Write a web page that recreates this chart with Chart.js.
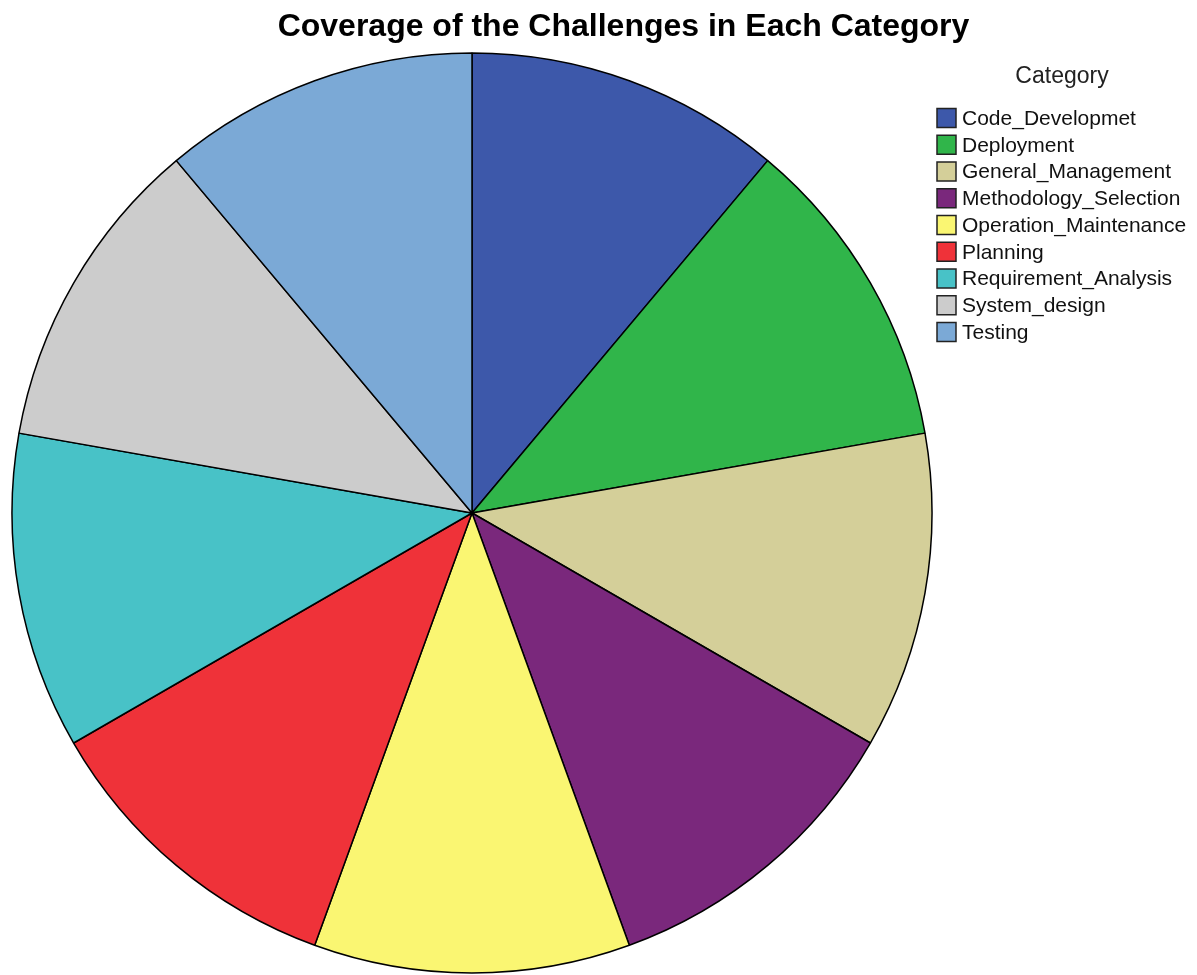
<!DOCTYPE html>
<html>
<head>
<meta charset="utf-8">
<script src="https://cdn.jsdelivr.net/npm/chart.js@4.4.1/dist/chart.umd.min.js"></script>
<style>
html,body{margin:0;padding:0;background:#fff;}
#wrap{position:relative;width:1197px;height:975px;}
</style>
</head>
<body>
<div id="wrap"><canvas id="c" width="1197" height="975"></canvas></div>
<script>
const chartTitle = "Coverage of the Challenges in Each Category";
const legendTitle = "Category";
const categories = ["Code_Developmet","Deployment","General_Management","Methodology_Selection","Operation_Maintenance","Planning","Requirement_Analysis","System_design","Testing"];
const counts = [1,1,1,1,1,1,1,1,1];
const colors = ["#3D58AA","#30B54A","#D4CF99","#7A287C","#FAF672","#EF3239","#48C2C7","#CCCCCC","#7BA9D6"];

const overlay = {
  id:'overlay',
  afterDraw(chart){
    const ctx = chart.ctx;
    ctx.save();
    ctx.fillStyle = '#000';
    ctx.font = 'bold 32px "Liberation Sans", Arial, sans-serif';
    ctx.textAlign = 'center';
    ctx.textBaseline = 'alphabetic';
    ctx.fillText(chartTitle, 623.5, 36);
    ctx.font = '23px "Liberation Sans", Arial, sans-serif';
    ctx.fillStyle = '#222';
    ctx.fillText(legendTitle, 1062, 83);
    ctx.textAlign = 'left';
    ctx.textBaseline = 'middle';
    ctx.font = '21px "Liberation Sans", Arial, sans-serif';
    categories.forEach((c,i)=>{
      const y = 118 + i*26.75;
      ctx.fillStyle = colors[i];
      ctx.fillRect(937, y-9.5, 19, 19);
      ctx.strokeStyle = '#222';
      ctx.lineWidth = 1.5;
      ctx.strokeRect(937, y-9.5, 19, 19);
      ctx.fillStyle = '#111';
      ctx.fillText(c, 962, y+1);
    });
    ctx.restore();
  }
};

new Chart(document.getElementById('c'), {
  type:'pie',
  data:{labels:categories, datasets:[{data:counts, backgroundColor:colors, borderColor:'#000', borderWidth:1.5}]},
  options:{
    responsive:false, animation:false,
    radius:460,
    layout:{padding:{left:12, top:53, right:265, bottom:2}},
    plugins:{legend:{display:false}, title:{display:false}, tooltip:{enabled:false}}
  },
  plugins:[overlay]
});
</script>
</body>
</html>
